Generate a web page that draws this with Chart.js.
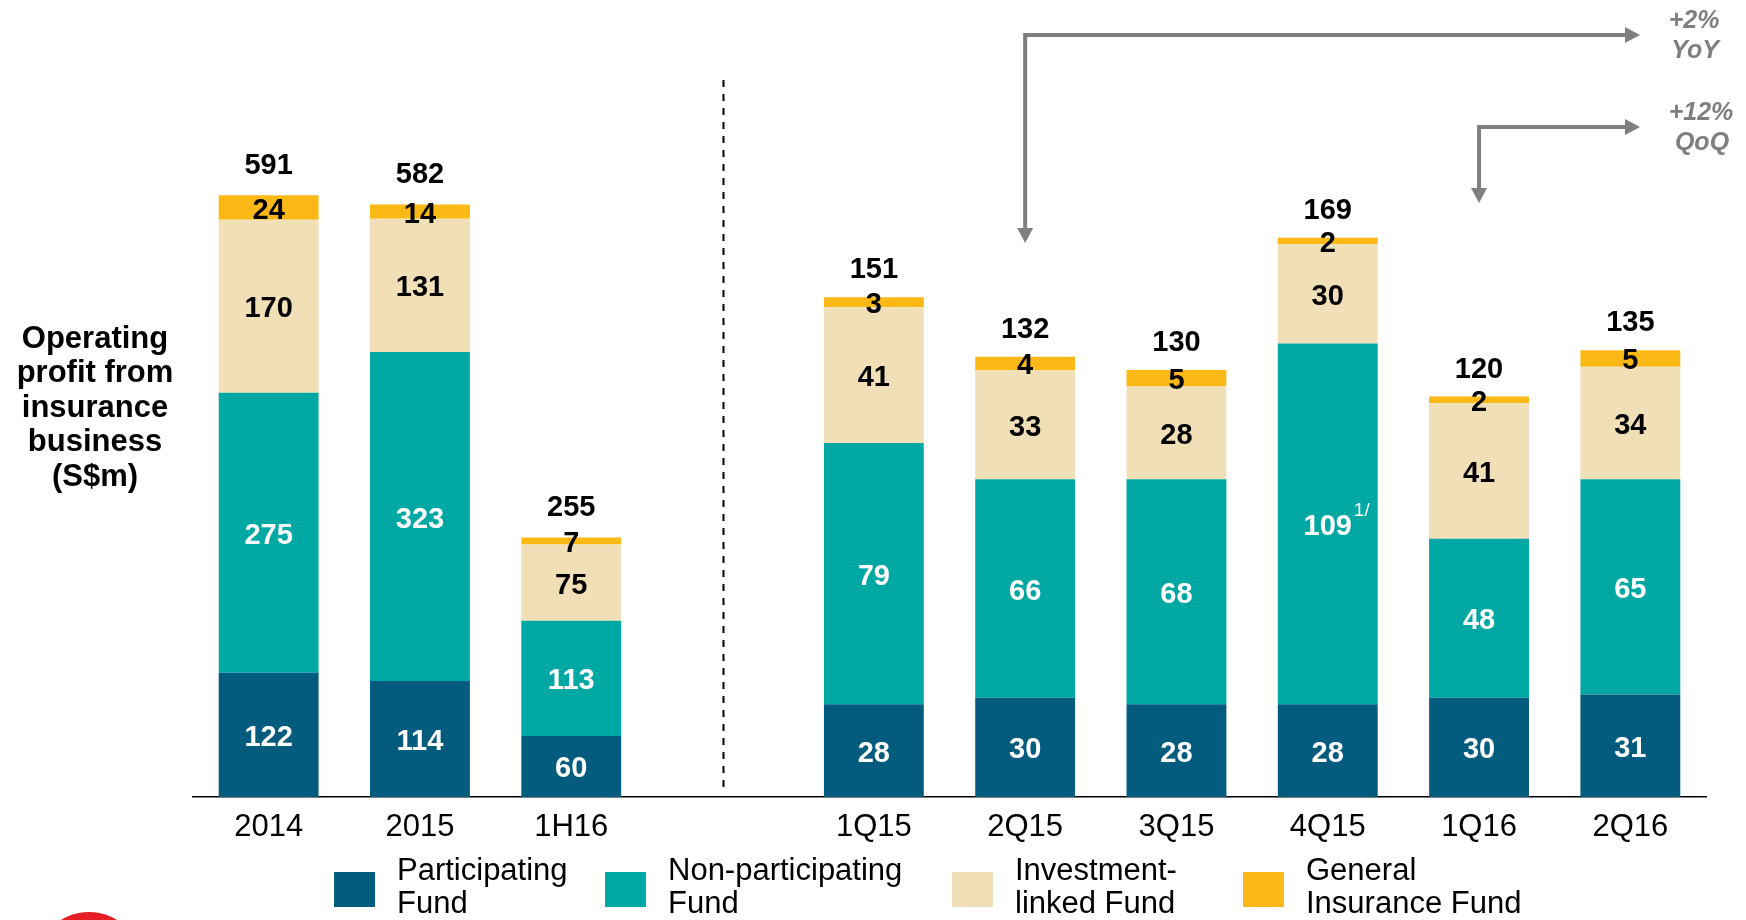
<!DOCTYPE html>
<html>
<head>
<meta charset="utf-8">
<title>Operating profit from insurance business</title>
<script src="https://cdn.jsdelivr.net/npm/chart.js@4.4.1/dist/chart.umd.min.js"></script>
<style>
    html, body { margin: 0; padding: 0; background: #ffffff; }
    #wrap { width: 1746px; height: 920px; position: relative; }
</style>
</head>
<body>
<div id="wrap"><canvas id="profitChart" width="1746" height="920"></canvas></div>
<script>
// Categories: 3 annual bars, an empty slot (divider), 6 quarterly bars
const categories = ['2014', '2015', '1H16', '', '1Q15', '2Q15', '3Q15', '4Q15', '1Q16', '2Q16'];

// Annual values (S$m)
const annualParticipating = [122, 114, 60];
const annualNonParticipating = [275, 323, 113];
const annualInvestmentLinked = [170, 131, 75];
const annualGeneral = [24, 14, 7];
const annualTotals = [591, 582, 255];

// Quarterly values (S$m)
const quarterParticipating = [28, 30, 28, 28, 30, 31];
const quarterNonParticipating = [79, 66, 68, 109, 48, 65];
const quarterInvestmentLinked = [41, 33, 28, 30, 41, 34];
const quarterGeneral = [3, 4, 5, 2, 2, 5];
const quarterTotals = [151, 132, 130, 169, 120, 135];
const quarterNonParticipatingNotes = [null, null, null, '1/', null, null];

const seriesNames = [
    ['Participating', 'Fund'],
    ['Non-participating', 'Fund'],
    ['Investment-', 'linked Fund'],
    ['General', 'Insurance Fund']
];
const seriesColors = ['#035B7E', '#00A8A4', '#F0DFB7', '#FCB814'];
const seriesLabelColors = ['#ffffff', '#ffffff', '#000000', '#000000'];

const FONT = '"Liberation Sans", Arial, Helvetica, sans-serif';

// put annual values in the first 3 slots, quarterly ones in the last 6
function padAnnual(arr) {
    return arr.concat(new Array(categories.length - arr.length).fill(null));
}
function padQuarter(arr) {
    return new Array(categories.length - arr.length).fill(null).concat(arr);
}

function buildDatasets() {
    const annual = [annualParticipating, annualNonParticipating, annualInvestmentLinked, annualGeneral];
    const quarter = [quarterParticipating, quarterNonParticipating, quarterInvestmentLinked, quarterGeneral];
    const sets = [];
    annual.forEach((arr, i) => {
        sets.push({
            label: seriesNames[i].join(' '),
            data: padAnnual(arr),
            yAxisID: 'yA',
            backgroundColor: seriesColors[i],
            labelColor: seriesLabelColors[i]
        });
    });
    quarter.forEach((arr, i) => {
        sets.push({
            label: seriesNames[i].join(' '),
            data: padQuarter(arr),
            yAxisID: 'yQ',
            backgroundColor: seriesColors[i],
            labelColor: seriesLabelColors[i],
            notes: i === 1 ? padQuarter(quarterNonParticipatingNotes) : null
        });
    });
    return sets;
}

// Segment values, totals and the "1/" footnote marker
const barLabels = {
    id: 'barLabels',
    afterDatasetsDraw(chart) {
        const ctx = chart.ctx;
        ctx.save();
        ctx.textAlign = 'center';
        ctx.textBaseline = 'middle';
        chart.data.datasets.forEach((ds, di) => {
            const meta = chart.getDatasetMeta(di);
            meta.data.forEach((bar, i) => {
                const v = ds.data[i];
                if (v === null || v === undefined) return;
                const p = bar.getProps(['x', 'y', 'base'], true);
                const cy = (p.y + p.base) / 2 + 3;
                ctx.font = 'bold 29px ' + FONT;
                ctx.fillStyle = ds.labelColor;
                ctx.fillText(String(v), p.x, cy);
                if (ds.notes && ds.notes[i]) {
                    ctx.font = '19px ' + FONT;
                    ctx.fillText(ds.notes[i], p.x + 34, cy - 16);
                }
            });
        });

        // totals sit above the top segment
        ctx.font = 'bold 29px ' + FONT;
        ctx.fillStyle = '#000000';
        const topAnnual = chart.getDatasetMeta(3);
        annualTotals.forEach((t, i) => {
            const bar = topAnnual.data[i];
            ctx.fillText(String(t), bar.x, bar.y - 29);
        });
        const topQuarter = chart.getDatasetMeta(7);
        quarterTotals.forEach((t, i) => {
            const bar = topQuarter.data[i + 4];
            ctx.fillText(String(t), bar.x, bar.y - 27);
        });
        ctx.restore();
    }
};

function arrowHead(ctx, x, y, dir) {
    ctx.beginPath();
    if (dir === 'right') {
        ctx.moveTo(x, y);
        ctx.lineTo(x - 15, y - 8);
        ctx.lineTo(x - 15, y + 8);
    } else {
        ctx.moveTo(x, y);
        ctx.lineTo(x - 8, y - 15);
        ctx.lineTo(x + 8, y - 15);
    }
    ctx.closePath();
    ctx.fill();
}

// Divider, growth arrows, axis title, legend
const decorations = {
    id: 'decorations',
    afterDraw(chart) {
        const ctx = chart.ctx;
        const xs = chart.scales.x;
        const area = chart.chartArea;
        ctx.save();

        // dashed divider between annual and quarterly
        const divX = Math.round(xs.getPixelForValue(3)) + 0.5;
        ctx.strokeStyle = '#000000';
        ctx.lineWidth = 2;
        ctx.setLineDash([7, 7]);
        ctx.beginPath();
        ctx.moveTo(divX, 80);
        ctx.lineTo(divX, area.bottom - 9);
        ctx.stroke();
        ctx.setLineDash([]);

        // YoY / QoQ arrows
        const grey = '#7F7F7F';
        const tipX = area.right - 66;
        ctx.strokeStyle = grey;
        ctx.fillStyle = grey;
        ctx.lineWidth = 4;
        const yoyX = xs.getPixelForValue(5);
        const qoqX = xs.getPixelForValue(8);
        ctx.beginPath();
        ctx.moveTo(yoyX, 232);
        ctx.lineTo(yoyX, 35);
        ctx.lineTo(tipX - 12, 35);
        ctx.stroke();
        arrowHead(ctx, tipX, 35, 'right');
        arrowHead(ctx, yoyX, 243, 'down');
        ctx.beginPath();
        ctx.moveTo(qoqX, 192);
        ctx.lineTo(qoqX, 127);
        ctx.lineTo(tipX - 12, 127);
        ctx.stroke();
        arrowHead(ctx, tipX, 127, 'right');
        arrowHead(ctx, qoqX, 203, 'down');

        ctx.font = 'italic bold 25px ' + FONT;
        ctx.textAlign = 'center';
        ctx.textBaseline = 'middle';
        ctx.fillText('+2%', 1694, 21);
        ctx.fillText('YoY', 1695, 51);
        ctx.fillText('+12%', 1701, 113);
        ctx.fillText('QoQ', 1702, 143);

        // horizontal axis title on the left
        ctx.fillStyle = '#000000';
        ctx.font = 'bold 31px ' + FONT;
        const title = ['Operating', 'profit from', 'insurance', 'business', '(S$m)'];
        title.forEach((line, i) => ctx.fillText(line, 95, 339 + i * 34.5));

        // legend with two-line labels
        const swatchX = [334, 605, 952, 1243];
        ctx.textAlign = 'left';
        ctx.font = '31px ' + FONT;
        seriesNames.forEach((lines, i) => {
            ctx.fillStyle = seriesColors[i];
            ctx.fillRect(swatchX[i], 872, 41, 35);
            ctx.fillStyle = '#000000';
            ctx.fillText(lines[0], swatchX[i] + 63, 871);
            ctx.fillText(lines[1], swatchX[i] + 63, 904);
        });

        // corner of the logo
        ctx.fillStyle = '#E31E25';
        ctx.beginPath();
        ctx.arc(89, 965, 53, 0, Math.PI * 2);
        ctx.fill();
        ctx.restore();
    }
};

const chart = new Chart(document.getElementById('profitChart').getContext('2d'), {
    type: 'bar',
    data: {
        labels: categories,
        datasets: buildDatasets()
    },
    options: {
        responsive: false,
        animation: false,
        devicePixelRatio: 1,
        layout: { padding: { top: 10, left: 193, right: 40, bottom: 0 } },
        datasets: { bar: { categoryPercentage: 0.66, barPercentage: 1, borderWidth: 0 } },
        plugins: {
            legend: { display: false },
            tooltip: { enabled: false }
        },
        scales: {
            x: {
                stacked: true,
                offset: true,
                grid: { display: false, drawTicks: false },
                border: { display: true, color: '#000000', width: 1.5 },
                ticks: {
                    color: '#000000',
                    font: { family: FONT, size: 31 },
                    padding: 12,
                    autoSkip: false,
                    maxRotation: 0
                },
                afterFit(scale) { scale.height = 123; }
            },
            yA: { stacked: true, display: false, min: 0, max: 773 },
            yQ: { stacked: true, display: false, min: 0, max: 237.8 }
        }
    },
    plugins: [barLabels, decorations]
});
</script>
</body>
</html>
